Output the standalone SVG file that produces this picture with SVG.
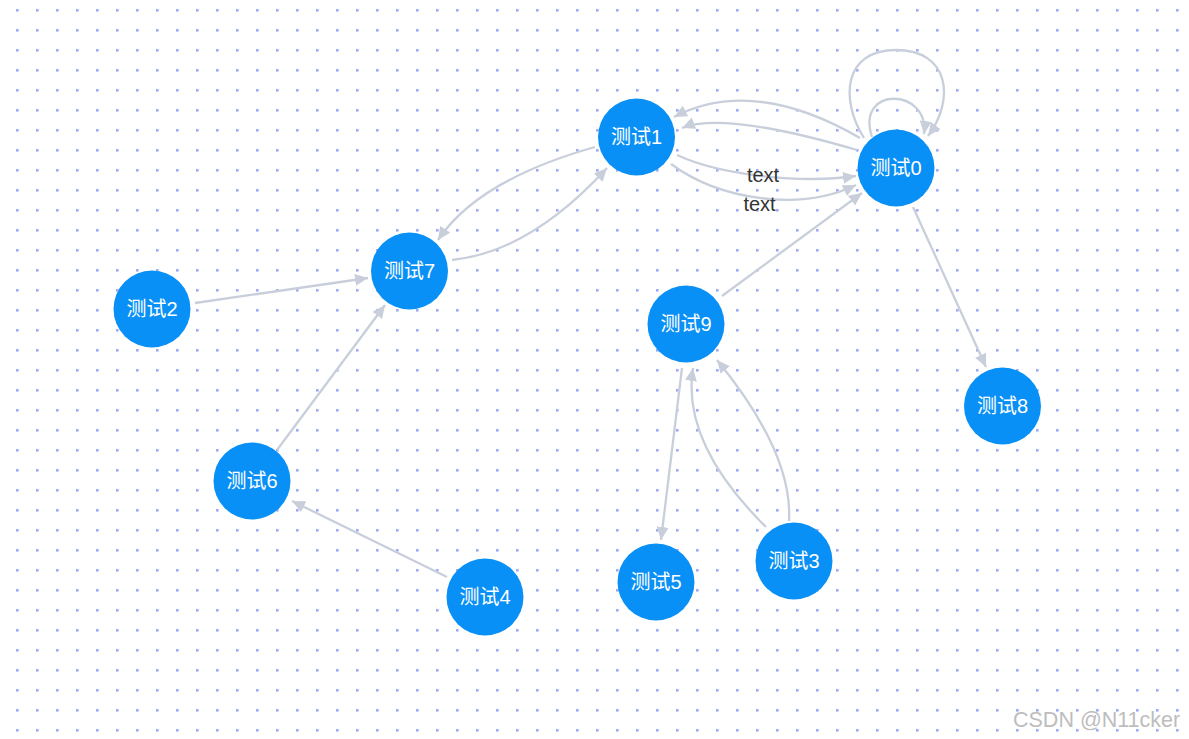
<svg xmlns="http://www.w3.org/2000/svg" width="1189" height="739" viewBox="0 0 1189 739">
<style>
.node circle{fill:#0890f6;}
.node text{fill:#ffffff;font-family:"Liberation Sans","Noto Sans CJK SC",sans-serif;font-size:20px;text-anchor:middle;}
.edge{fill:none;stroke:#c8cfdb;stroke-width:2.3;marker-end:url(#arrow);}
.lbl{fill:#333333;font-family:"Liberation Sans","Noto Sans CJK SC",sans-serif;font-size:20px;text-anchor:middle;}
.wm{fill:#bdbdbd;font-family:"Liberation Sans",sans-serif;font-size:21.5px;}
</style>
<defs>
<pattern id="dots" patternUnits="userSpaceOnUse" x="0" y="0" width="20" height="20">
<rect x="16" y="9" width="2.6" height="2.6" fill="#9eaaf5"/>
</pattern>
<marker id="arrow" markerUnits="userSpaceOnUse" markerWidth="15" markerHeight="13" refX="13" refY="6" orient="auto">
<path d="M0,0 L13,6 L0,12 Z" fill="#c8cfdb"/>
</marker>
</defs>
<rect width="1189" height="739" fill="#ffffff"/>
<rect width="1189" height="739" fill="url(#dots)"/>
<g id="edges">
<path class="edge" d="M195,303 L368,278"/>
<path class="edge" d="M277,450 L385,305"/>
<path class="edge" d="M447,577 L292,501"/>
<path class="edge" d="M595,147 Q478,180 438,240"/>
<path class="edge" d="M452,260 Q530,252 607,168"/>
<path class="edge" d="M722,296 L862,193"/>
<path class="edge" d="M913,207 L986,367"/>
<path class="edge" d="M682,368 L661,540"/>
<path class="edge" d="M766,527 Q681,443 693,368"/>
<path class="edge" d="M789,521 Q793,453 717,360"/>
<path class="edge" d="M860,138 Q753,76 674,117"/>
<path class="edge" d="M857,150 Q724,111 682,128"/>
<path class="edge" d="M677,155 C720,175 800,184 856,176"/>
<path class="edge" d="M671,164 C720,200 800,212 856,185"/>
<path class="edge" d="M872,137 C855,85 930,88 924,134"/>
<path class="edge" d="M864,138 C840,100 843,50 896,50 C950,50 955,100 928,136"/>
<text class="lbl" x="763" y="182">text</text>
<text class="lbl" x="759.5" y="211">text</text>
</g>
<g id="node0" class="node"><circle cx="896" cy="168" r="38.5"/><text x="896" y="175">测试0</text></g>
<g id="node1" class="node"><circle cx="636.5" cy="137" r="38.5"/><text x="636.5" y="144">测试1</text></g>
<g id="node2" class="node"><circle cx="152" cy="309" r="38.5"/><text x="152" y="316">测试2</text></g>
<g id="node3" class="node"><circle cx="794" cy="561" r="38.5"/><text x="794" y="568">测试3</text></g>
<g id="node4" class="node"><circle cx="485" cy="597" r="38.5"/><text x="485" y="604">测试4</text></g>
<g id="node5" class="node"><circle cx="656" cy="582" r="38.5"/><text x="656" y="589">测试5</text></g>
<g id="node6" class="node"><circle cx="252" cy="481" r="38.5"/><text x="252" y="488">测试6</text></g>
<g id="node7" class="node"><circle cx="409.5" cy="271" r="38.5"/><text x="409.5" y="278">测试7</text></g>
<g id="node8" class="node"><circle cx="1002.5" cy="406" r="38.5"/><text x="1002.5" y="413">测试8</text></g>
<g id="node9" class="node"><circle cx="686" cy="324" r="38.5"/><text x="686" y="331">测试9</text></g>
<text class="wm" x="1013" y="727">CSDN @N11cker</text>
</svg>
